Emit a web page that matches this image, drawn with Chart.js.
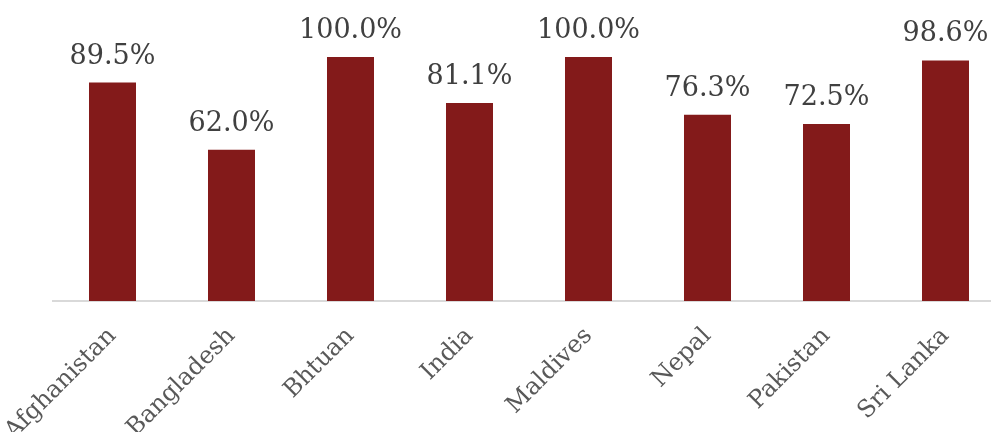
<!DOCTYPE html>
<html>
<head>
<meta charset="utf-8">
<script src="https://cdn.jsdelivr.net/npm/chart.js@4"></script>
<style>
  html, body { margin: 0; padding: 0; background: #ffffff; overflow: hidden; }
  #wrap { width: 1005px; height: 432px; position: relative; }
</style>
</head>
<body>
<div id="wrap"><canvas id="coverChart"></canvas></div>
<script>
// Valores
const countries = ['Afghanistan', 'Bangladesh', 'Bhtuan', 'India', 'Maldives', 'Nepal', 'Pakistan', 'Sri Lanka'];
const coverage  = [89.5, 62.0, 100.0, 81.1, 100.0, 76.3, 72.5, 98.6];

const serif = "Georgia, 'DejaVu Serif', serif";

// etiquetas de valor encima de cada barra
const valueLabels = {
    id: 'valueLabels',
    afterDatasetsDraw(chart) {
        const ctx  = chart.ctx;
        const meta = chart.getDatasetMeta(0);
        ctx.save();
        ctx.font = '27px ' + serif;
        ctx.fillStyle = '#404040';
        ctx.textAlign = 'center';
        ctx.textBaseline = 'alphabetic';
        meta.data.forEach((bar, i) => {
            ctx.fillText(coverage[i].toFixed(1) + '%', bar.x, bar.y - 19);
        });
        ctx.restore();
    }
};

new Chart(document.getElementById('coverChart'), {
    type: 'bar',
    data: {
        labels: countries,
        datasets: [{
            data: coverage,
            backgroundColor: '#831a1a',
            borderWidth: 0,
            barPercentage: 0.395,
            categoryPercentage: 1.0,
        }]
    },
    options: {
        responsive: true,
        maintainAspectRatio: false,
        animation: false,
        layout: { padding: { top: 57, left: 53, right: 0, bottom: 0 } },
        plugins: {
            legend : { display: false },
            tooltip: { enabled: false },
        },
        scales: {
            x: {
                grid  : { display: false },
                border: { display: true, color: '#d9d9d9', width: 2 },
                ticks : {
                    color: '#595959',
                    font : { family: serif, size: 24 },
                    minRotation: 45,
                    maxRotation: 45,
                    padding: 13,
                },
                afterFit(scale) {
                    scale.height = 131;
                    scale.paddingLeft = 0;   // que la etiqueta rotada no empuje el área
                    scale.paddingRight = 0;
                }
            },
            y: {
                display: false,
                min: 0,
                max: 100,
            }
        }
    },
    plugins: [valueLabels]
});
</script>
</body>
</html>
